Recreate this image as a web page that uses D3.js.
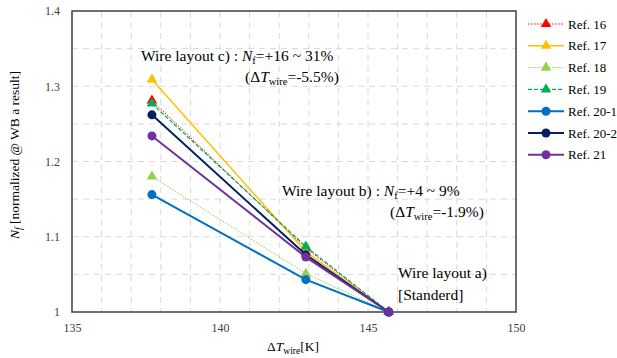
<!DOCTYPE html>
<html>
<head>
<meta charset="utf-8">
<title>Nf vs dT wire</title>
<style>
  body { margin: 0; background: #fff; }
</style>
</head>
<body>
<svg width="617" height="358" font-family="Liberation Serif"></svg>
<script src="https://cdn.jsdelivr.net/npm/d3@7"></script>
<script>
// x positions (dT_wire [K]) for layouts c), b), a)
var xVals = [137.7, 142.9, 145.7];

var seriesNames = ['Ref. 16', 'Ref. 17', 'Ref. 18', 'Ref. 19', 'Ref. 20-1', 'Ref. 20-2', 'Ref. 21'];
var ref16  = [1.281, 1.085, 1.0];
var ref17  = [1.309, 1.080, 1.0];
var ref18  = [1.180, 1.051, 1.0];
var ref19  = [1.277, 1.087, 1.0];
var ref201 = [1.156, 1.043, 1.0];
var ref202 = [1.262, 1.076, 1.0];
var ref21  = [1.234, 1.073, 1.0];

var xTicks = [135, 140, 145, 150];
var yTicks = [1, 1.1, 1.2, 1.3, 1.4];

var styles = [
    {c: '#ff0000', dash: '1.5,1.5', w: 1,   m: 'tri'},
    {c: '#ffc000', dash: null,      w: 1.5, m: 'tri'},
    {c: '#92d050', dash: '1.5,1.5', w: 1,   m: 'tri'},
    {c: '#00b050', dash: '4,2',     w: 1.2, m: 'tri'},
    {c: '#0070c0', dash: null,      w: 2,   m: 'dot'},
    {c: '#002060', dash: null,      w: 2,   m: 'dot'},
    {c: '#7030a0', dash: null,      w: 2,   m: 'dot'}
];
var allVals = [ref16, ref17, ref18, ref19, ref201, ref202, ref21];

var FONT = 'Liberation Serif';
var svg = d3.select('svg');
var L = 72, R = 516, T = 11, B = 312;

var x = d3.scaleLinear().domain([135, 150]).range([L, R]);
var y = d3.scaleLinear().domain([1, 1.4]).range([B, T]);

// minor grid
var g = svg.append('g');
g.selectAll('line.vx').data(d3.range(136, 150, 1)).enter().append('line')
    .attr('x1', function(d){ return x(d); }).attr('x2', function(d){ return x(d); })
    .attr('y1', T).attr('y2', B)
    .attr('stroke', '#d9d9d9').attr('stroke-width', 1).attr('stroke-dasharray', '6,5');
g.selectAll('line.hy').data(d3.range(1.05, 1.39, 0.05)).enter().append('line')
    .attr('y1', function(d){ return y(d); }).attr('y2', function(d){ return y(d); })
    .attr('x1', L).attr('x2', R)
    .attr('stroke', '#d9d9d9').attr('stroke-width', 1).attr('stroke-dasharray', '6,5');

// axes (labels only, frame drawn separately)
var xa = svg.append('g').attr('transform', 'translate(0,' + B + ')')
    .call(d3.axisBottom(x).tickValues(xTicks).tickSize(0).tickPadding(11).tickFormat(d3.format('d')));
xa.select('.domain').remove();
var ya = svg.append('g').attr('transform', 'translate(' + L + ',0)')
    .call(d3.axisLeft(y).tickValues(yTicks).tickSize(0).tickPadding(12).tickFormat(function(d){ return d === 1 ? '1' : d3.format('.1f')(d); }));
ya.select('.domain').remove();
svg.selectAll('.tick text').attr('font-family', FONT).attr('font-size', 12).attr('fill', '#404040');
xa.attr('font-family', FONT);
ya.attr('font-family', FONT);

// plot frame
svg.append('rect').attr('x', L).attr('y', T).attr('width', R - L).attr('height', B - T)
    .attr('fill', 'none').attr('stroke', '#404040').attr('stroke-width', 1.5);

var line = d3.line().x(function(d, i){ return x(xVals[i]); }).y(function(d){ return y(d); });
var tri = d3.symbol().type(d3.symbolTriangle).size(48);

function marker(sel, s) {
    if (s.m === 'tri') {
        sel.append('path').attr('d', tri).attr('fill', s.c);
    } else {
        sel.append('circle').attr('r', 4.5).attr('fill', s.c);
    }
}

allVals.forEach(function(vals, k) {
    var s = styles[k];
    svg.append('path').datum(vals).attr('d', line)
        .attr('fill', 'none').attr('stroke', s.c).attr('stroke-width', s.w)
        .attr('stroke-dasharray', s.dash);
    vals.forEach(function(v, i) {
        var m = svg.append('g').attr('transform', 'translate(' + x(xVals[i]) + ',' + y(v) + ')');
        marker(m, s);
    });
});

// legend
var lg = svg.append('g').attr('transform', 'translate(528,24)');
seriesNames.forEach(function(name, k) {
    var s = styles[k];
    var row = lg.append('g').attr('transform', 'translate(0,' + (k * 21.8) + ')');
    row.append('line').attr('x1', 0).attr('x2', 36).attr('y1', 0).attr('y2', 0)
        .attr('stroke', s.c).attr('stroke-width', s.w).attr('stroke-dasharray', s.dash);
    marker(row.append('g').attr('transform', 'translate(18,0)'), s);
    row.append('text').attr('x', 40).attr('y', 4.5).attr('font-family', FONT).attr('font-size', 13).text(name);
});

// annotations
function ann(tx, ty, parts) {
    var t = svg.append('text').attr('x', tx).attr('y', ty).attr('font-family', FONT).attr('font-size', 15.5);
    parts.forEach(function(p) {
        var ts = t.append('tspan').text(p.t);
        if (p.i) ts.attr('font-style', 'italic');
        if (p.sub) ts.attr('baseline-shift', '-25%').attr('font-size', 10.5);
    });
}
ann(141, 61, [{t: 'Wire layout c) : '}, {t: 'N', i: 1}, {t: 'f', sub: 1}, {t: '=+16 ~ 31%'}]);
ann(245, 82, [{t: '(Δ'}, {t: 'T', i: 1}, {t: 'wire', sub: 1}, {t: '=-5.5%)'}]);
ann(282, 196, [{t: 'Wire layout b) :  '}, {t: 'N', i: 1}, {t: 'f', sub: 1}, {t: '=+4 ~ 9%'}]);
ann(390, 217, [{t: '(Δ'}, {t: 'T', i: 1}, {t: 'wire', sub: 1}, {t: '=-1.9%)'}]);
ann(398, 278, [{t: 'Wire layout a)'}]);
ann(398, 300, [{t: '[Standerd]'}]);

// axis titles
var xt = svg.append('text').attr('x', 293).attr('y', 351).attr('text-anchor', 'middle')
    .attr('font-family', FONT).attr('font-size', 13.5);
xt.append('tspan').text('Δ');
xt.append('tspan').text('T').attr('font-style', 'italic');
xt.append('tspan').text('wire').attr('baseline-shift', '-25%').attr('font-size', 9.5);
xt.append('tspan').text('[K]');

var yt = svg.append('text').attr('transform', 'translate(19,155) rotate(-90)')
    .attr('text-anchor', 'middle').attr('font-family', FONT).attr('font-size', 13.5);
yt.append('tspan').text('N').attr('font-style', 'italic');
yt.append('tspan').text('f').attr('baseline-shift', '-25%').attr('font-size', 9.5).attr('font-style', 'italic');
yt.append('tspan').text('  [normalized @ WB a result]');
</script>
</body>
</html>
